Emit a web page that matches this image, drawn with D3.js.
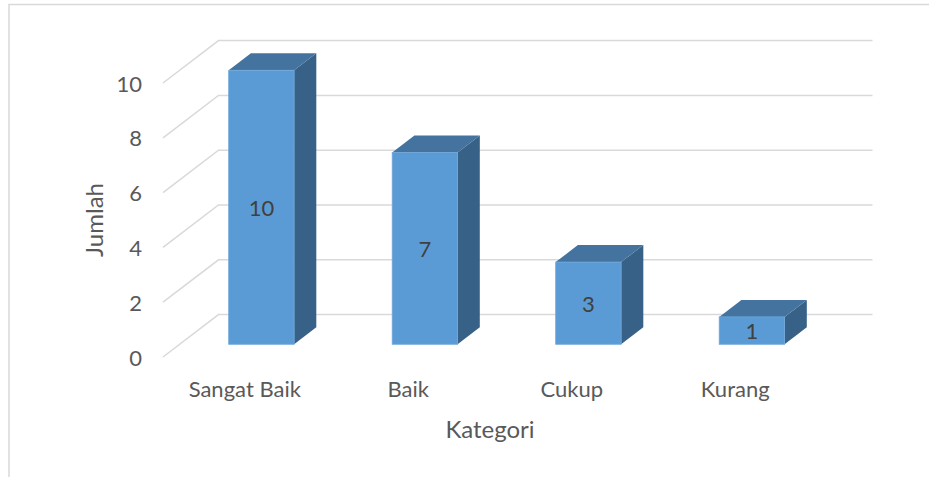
<!DOCTYPE html>
<html>
<head>
<meta charset="utf-8">
<script src="https://cdn.jsdelivr.net/npm/d3@7"></script>
<style>
  html, body { margin: 0; padding: 0; background: #ffffff; }
  svg { display: block; }
  text { font-family: "Lato", "Open Sans", sans-serif; }
</style>
</head>
<body>
<svg id="chart" width="929" height="477"></svg>
<script>
// Data
const categories = ["Sangat Baik", "Baik", "Cukup", "Kurang"];
const values = [10, 7, 3, 1];
const yTicks = [0, 2, 4, 6, 8, 10];
const xTitle = "Kategori";
const yTitle = "Jumlah";

const svg = d3.select("#chart");
const W = 929, H = 477;

// Outer chart border (top and left edges visible)
svg.append("rect")
  .attr("x", 9).attr("y", 4.5)
  .attr("width", W + 20).attr("height", H + 20)
  .attr("fill", "none")
  .attr("stroke", "#d9d9d9")
  .attr("stroke-width", 1.5);

// Front-plane scales; depth is an oblique offset
const x = d3.scaleBand()
  .domain(categories)
  .range([163, 817])
  .paddingInner(0.6)
  .paddingOuter(0.3);
const y = d3.scaleLinear().domain([0, 10]).range([357, 83]);
const DX = 55.5, DY = -42.4;           // full floor depth offset
const zFront = 0.3, zBack = 0.7;       // bar depth within the floor

const px = (xv, z) => xv + z * DX;
const py = (v, z) => y(v) + z * DY;

// Gridlines: side wall diagonals + back wall horizontals
const grid = svg.append("g").attr("stroke", "#d9d9d9").attr("stroke-width", 1.5).attr("fill", "none");
const [x0, x1] = x.range();
yTicks.forEach(t => {
  grid.append("path")
    .attr("d", `M${px(x0, 0)},${py(t, 0)}L${px(x0, 1)},${py(t, 1)}L${px(x1, 1)},${py(t, 1)}`);
});

// Y tick labels
svg.append("g").selectAll("text").data(yTicks).join("text")
  .attr("x", 142)
  .attr("y", d => y(d))
  .attr("text-anchor", "end")
  .attr("dominant-baseline", "central")
  .attr("fill", "#595959")
  .attr("font-size", 22)
  .text(d => d);

// Bars as oblique boxes
const colFront = "#5b9bd5", colTop = "#44739f", colSide = "#386187";
const bars = svg.append("g").selectAll("g").data(categories.map((c, i) => ({ c, v: values[i] }))).join("g");

bars.each(function(d) {
  const g = d3.select(this);
  const xl = x(d.c), xr = x(d.c) + x.bandwidth();
  const poly = pts => pts.map(p => p.join(",")).join(" ");
  // side face
  g.append("polygon")
    .attr("points", poly([
      [px(xr, zFront), py(0, zFront)],
      [px(xr, zBack), py(0, zBack)],
      [px(xr, zBack), py(d.v, zBack)],
      [px(xr, zFront), py(d.v, zFront)]
    ]))
    .attr("fill", colSide);
  // top face
  g.append("polygon")
    .attr("points", poly([
      [px(xl, zFront), py(d.v, zFront)],
      [px(xr, zFront), py(d.v, zFront)],
      [px(xr, zBack), py(d.v, zBack)],
      [px(xl, zBack), py(d.v, zBack)]
    ]))
    .attr("fill", colTop);
  // front face
  g.append("rect")
    .attr("x", px(xl, zFront))
    .attr("y", py(d.v, zFront))
    .attr("width", x.bandwidth())
    .attr("height", py(0, zFront) - py(d.v, zFront))
    .attr("fill", colFront)
    .attr("stroke", "#6ea7da")
    .attr("stroke-width", 0.8);
  // value label
  g.append("text")
    .attr("x", px(xl + x.bandwidth() / 2, zFront))
    .attr("y", (py(0, zFront) + py(d.v, zFront)) / 2)
    .attr("text-anchor", "middle")
    .attr("dominant-baseline", "central")
    .attr("fill", "#404040")
    .attr("font-size", 22)
    .text(d.v);
});

// Category labels on the front plane
svg.append("g").selectAll("text").data(categories).join("text")
  .attr("x", d => x(d) + x.bandwidth() / 2)
  .attr("y", 388)
  .attr("text-anchor", "middle")
  .attr("dominant-baseline", "central")
  .attr("fill", "#595959")
  .attr("font-size", 22)
  .text(d => d);

// Axis titles
svg.append("text")
  .attr("x", (x0 + x1) / 2 + 0)
  .attr("y", 428)
  .attr("text-anchor", "middle")
  .attr("dominant-baseline", "central")
  .attr("fill", "#595959")
  .attr("font-size", 24)
  .text(xTitle);

svg.append("text")
  .attr("transform", "translate(93,220) rotate(-90)")
  .attr("text-anchor", "middle")
  .attr("dominant-baseline", "central")
  .attr("fill", "#595959")
  .attr("font-size", 24)
  .text(yTitle);
</script>
</body>
</html>
